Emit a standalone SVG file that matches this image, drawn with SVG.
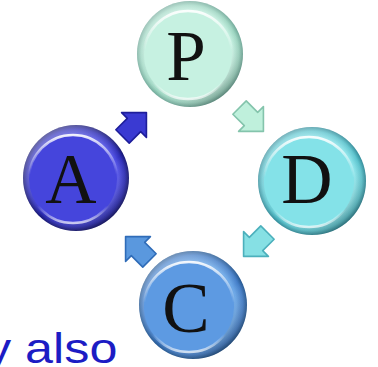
<svg xmlns="http://www.w3.org/2000/svg" width="378" height="367" viewBox="0 0 378 367">
<defs>
<radialGradient id="rimP" cx="0.5" cy="0.5" r="0.5"><stop offset="0.8" stop-color="#c9f3e4"/><stop offset="0.92" stop-color="#9ed6c2"/><stop offset="1" stop-color="#6fa898"/></radialGradient>
<radialGradient id="rimD" cx="0.5" cy="0.5" r="0.5"><stop offset="0.8" stop-color="#8fe6ec"/><stop offset="0.92" stop-color="#5cc4ce"/><stop offset="1" stop-color="#2f8a98"/></radialGradient>
<radialGradient id="rimC" cx="0.5" cy="0.5" r="0.5"><stop offset="0.8" stop-color="#6aa6e6"/><stop offset="0.92" stop-color="#447ec8"/><stop offset="1" stop-color="#22558f"/></radialGradient>
<radialGradient id="rimA" cx="0.5" cy="0.5" r="0.5"><stop offset="0.8" stop-color="#5252e8"/><stop offset="0.92" stop-color="#2e2eb8"/><stop offset="1" stop-color="#141470"/></radialGradient>
<linearGradient id="shade" x1="0.2" y1="0.1" x2="0.85" y2="0.95"><stop offset="0" stop-color="#fff" stop-opacity="0.35"/><stop offset="0.55" stop-color="#fff" stop-opacity="0"/><stop offset="1" stop-color="#000" stop-opacity="0.3"/></linearGradient>
<linearGradient id="hl" x1="0" y1="0" x2="0" y2="1"><stop offset="0" stop-color="#fff" stop-opacity="0.9"/><stop offset="0.45" stop-color="#fff" stop-opacity="0"/><stop offset="0.8" stop-color="#fff" stop-opacity="0"/><stop offset="1" stop-color="#fff" stop-opacity="0.7"/></linearGradient>
<polygon id="arr" points="-7,12 7,12 7,0 13,0 0,-13 -13,0 -7,0"/>
</defs>
<style>
.letter{font-family:"Liberation Serif","Times New Roman",serif;font-size:71px;fill:#111;text-anchor:middle}
.shade{fill:url(#shade)}
.ring{fill:none;stroke:url(#hl);stroke-width:2.5}
.arrow{stroke-width:1.2;stroke-linejoin:round}
</style>
<g id="node-P">
<circle cx="190" cy="54" r="53" fill="url(#rimP)"/>
<circle cx="190" cy="54" r="53" class="shade"/>
<circle cx="188" cy="55" r="44" fill="#c6f1e1"/>
<circle cx="188" cy="55" r="44" class="ring"/>
<text x="186" y="80" class="letter">P</text>
</g>
<g id="node-A">
<circle cx="76" cy="178" r="53" fill="url(#rimA)"/>
<circle cx="76" cy="178" r="53" class="shade"/>
<circle cx="73" cy="179" r="44" fill="#4545dc"/>
<circle cx="73" cy="179" r="44" class="ring"/>
<text x="71" y="203" class="letter">A</text>
</g>
<g id="node-D">
<circle cx="312" cy="181" r="54" fill="url(#rimD)"/>
<circle cx="312" cy="181" r="54" class="shade"/>
<circle cx="309" cy="182" r="45" fill="#84e2e8"/>
<circle cx="309" cy="182" r="45" class="ring"/>
<text x="307" y="203" class="letter">D</text>
</g>
<g id="node-C">
<circle cx="193" cy="305" r="54" fill="url(#rimC)"/>
<circle cx="193" cy="305" r="54" class="shade"/>
<circle cx="189" cy="307" r="45" fill="#5d9ae2"/>
<circle cx="189" cy="307" r="45" class="ring"/>
<text x="186" y="332" class="letter">C</text>
</g>
<g id="connectors">
<use href="#arr" class="arrow" fill="#3a3ad2" stroke="#1e1e9a" transform="translate(134,125) rotate(45) scale(1.35)"/>
<use href="#arr" class="arrow" fill="#bff0dc" stroke="#84c4ac" transform="translate(251,119) rotate(135) scale(1.35)"/>
<use href="#arr" class="arrow" fill="#86e0e4" stroke="#4cb0bc" transform="translate(256,244) rotate(225) scale(1.35)"/>
<use href="#arr" class="arrow" fill="#5a98de" stroke="#2f6cb8" transform="translate(138,249) rotate(-45) scale(1.35)"/>
</g>
<text transform="translate(-14,363) scale(1.17,1)" font-family="Liberation Sans, Arial, sans-serif" font-size="43" fill="#1c1cc4">y also</text>
</svg>
